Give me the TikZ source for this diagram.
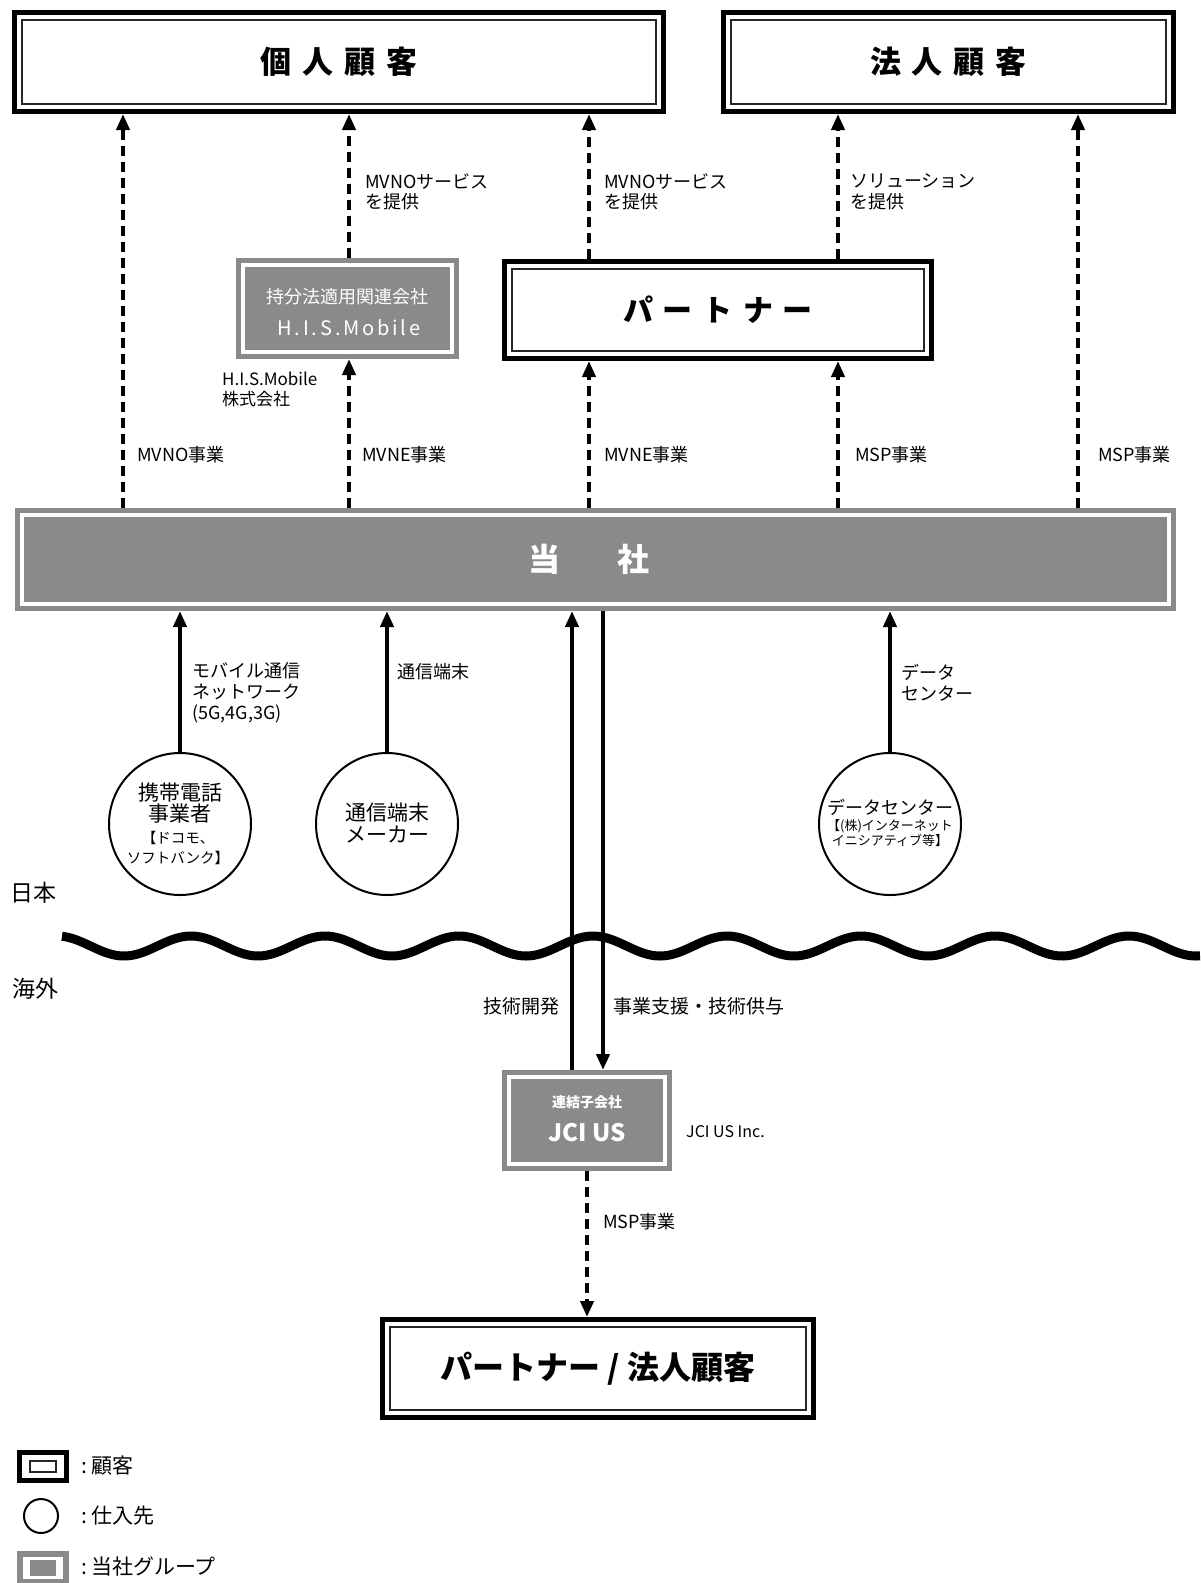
\documentclass[tikz,border=0pt]{standalone}
\usepackage{fontspec}
\setmainfont{Noto Sans CJK JP}
\usetikzlibrary{arrows.meta}
\definecolor{grp}{HTML}{8A8A8A}
\newcommand{\myfs}[2]{\fontsize{#1}{#2}\selectfont}
\tikzset{
  custbox/.style={draw=black, line width=5pt, fill=white, inner sep=0pt,
    path picture={\draw[line width=1.4pt, black!85]
      ([shift={(7.5pt,7.5pt)}]path picture bounding box.south west) rectangle
      ([shift={(-7.5pt,-7.5pt)}]path picture bounding box.north east);}},
  grpbox/.style={draw=grp, line width=5pt, fill=white, inner sep=0pt, text=white,
    path picture={\fill[grp]
      ([shift={(6.5pt,6.5pt)}]path picture bounding box.south west) rectangle
      ([shift={(-6.5pt,-6.5pt)}]path picture bounding box.north east);}},
  supplier/.style={draw=black, line width=2pt, circle, fill=white, inner sep=0pt},
  dasharrow/.style={line width=4pt, dash pattern=on 10pt off 6pt, -{Triangle[length=16pt,width=13pt]}},
  solidarrow/.style={line width=4pt, -{Triangle[length=16pt,width=13pt]}},
  lab/.style={anchor=west, align=left, inner sep=0pt, font=\myfs{18}{20.5}},
  circtext/.style={inner sep=0pt, font=\myfs{21}{21}},
  legtext/.style={anchor=west, inner sep=0pt, font=\myfs{21}{21}},
}
\begin{document}
\begin{tikzpicture}[x=1pt,y=-1pt]
\useasboundingbox (0,0) rectangle (1200,1583);
\fill[white] (0,0) rectangle (1200,1583);

% column coordinates
\coordinate (c1) at (123,0);
\coordinate (c2) at (349,0);
\coordinate (c3) at (589,0);
\coordinate (c4) at (838,0);
\coordinate (c5) at (1078,0);
\coordinate (cu) at (572,0);
\coordinate (cd) at (603,0);

% wave
\draw[line width=9pt] plot[domain=62:1200, samples=300, smooth] (\x, {946-10*cos(2.68657*(\x-593))});

% customer boxes
\node[custbox, minimum width=649pt, minimum height=99pt, font=\myfs{31}{31}\bfseries] (kojin) at (339,62)
  {個\hspace{11pt}人\hspace{11pt}顧\hspace{11pt}客};
\node[custbox, minimum width=450pt, minimum height=99pt, font=\myfs{31}{31}\bfseries] (hojin) at (948.5,62)
  {法\hspace{11pt}人\hspace{11pt}顧\hspace{11pt}客};
\node[custbox, minimum width=427pt, minimum height=97pt, font=\myfs{30}{30}\bfseries] (partner) at (718,310)
  {パ\hspace{10pt}ー\hspace{10pt}ト\hspace{10pt}ナ\hspace{10pt}ー};
\node[custbox, minimum width=431pt, minimum height=98pt, font=\myfs{32}{32}\bfseries] (bottom) at (598,1368.5)
  {パートナー / 法人顧客};

% group boxes
\node[grpbox, minimum width=218pt, minimum height=96pt] (his) at (347.5,308.5) {};
\node[text=white, inner sep=0pt, font=\myfs{18}{18}] (histxt1) at (347.5,297) {持分法適用関連会社};
\node[text=white, inner sep=0pt, font=\myfs{20}{20}\addfontfeature{LetterSpace=14}] (histxt2) at (349,328) {H.I.S.Mobile};
\node[grpbox, minimum width=1156pt, minimum height=98pt] (tosha) at (595.5,559.5) {};
\node[text=white, inner sep=0pt, font=\myfs{32}{32}\bfseries] (toshatxt) at (589,559.5) {当\hspace{57pt}社};
\node[grpbox, minimum width=165pt, minimum height=96pt] (jci) at (587,1120.5) {};
\node[text=white, inner sep=0pt, font=\myfs{14}{14}\bfseries] (jcitxt1) at (587,1102) {連結子会社};
\node[text=white, inner sep=0pt, font=\myfs{24}{24}\bfseries] (jcitxt2) at (587,1133) {JCI US};

% suppliers
\node[supplier, minimum size=142pt] (carrier) at (180,824) {};
\node[supplier, minimum size=142pt] (maker) at (387,824) {};
\node[supplier, minimum size=142pt] (dc) at (890,824) {};
\node[circtext] (t1a) at (180,793) {携帯電話};
\node[circtext] (t1b) at (180,814) {事業者};
\node[circtext, font=\myfs{14.5}{14.5}] (t1c) at (178,838) {【ドコモ、};
\node[circtext, font=\myfs{14.5}{14.5}] (t1d) at (178,858) {ソフトバンク】};
\node[circtext] (t2a) at (387,813) {通信端末};
\node[circtext] (t2b) at (387,835) {メーカー};
\node[circtext, font=\myfs{18}{18}] (t3a) at (890,807) {データセンター};
\node[circtext, font=\myfs{13}{13}] (t3b) at (890,826) {【(株)インターネット};
\node[circtext, font=\myfs{13}{13}] (t3c) at (890,840) {イニシアティブ等】};

% dashed arrows: 当社 -> customers
\draw[dasharrow] (tosha.north -| c1) -- (kojin.south -| c1);
\draw[dasharrow] (tosha.north -| c2) -- (his.south -| c2);
\draw[dasharrow] (his.north -| c2) -- (kojin.south -| c2);
\draw[dasharrow] (tosha.north -| c3) -- (partner.south -| c3);
\draw[dasharrow] (partner.north -| c3) -- (kojin.south -| c3);
\draw[dasharrow] (tosha.north -| c4) -- (partner.south -| c4);
\draw[dasharrow] (partner.north -| c4) -- (hojin.south -| c4);
\draw[dasharrow] (tosha.north -| c5) -- (hojin.south -| c5);

% supplier arrows
\draw[solidarrow] (carrier.north) -- (tosha.south -| carrier.north);
\draw[solidarrow] (maker.north) -- (tosha.south -| maker.north);
\draw[solidarrow] (dc.north) -- (tosha.south -| dc.north);

% overseas
\draw[solidarrow] (jci.north -| cu) -- (tosha.south -| cu);
\draw[solidarrow] (tosha.south -| cd) -- (jci.north -| cd);
\draw[dasharrow] (jci.south) -- (bottom.north -| jci.south);

% labels
\node[lab] (l1) at (365,192) {MVNOサービス\\を提供};
\node[lab] (l2) at (604,192) {MVNOサービス\\を提供};
\node[lab] (l3) at (850,192) {ソリューション\\を提供};
\node[lab, font=\myfs{17}{19.5}] (l4) at (222,389.5) {H.I.S.Mobile\\株式会社};
\node[lab] (l5) at (137,455) {MVNO事業};
\node[lab] (l6) at (362,455) {MVNE事業};
\node[lab] (l7) at (604,455) {MVNE事業};
\node[lab] (l8) at (855,455) {MSP事業};
\node[lab] (l9) at (1098,455) {MSP事業};
\node[lab, font=\myfs{18}{21}] (l10) at (192,693) {モバイル通信\\ネットワーク\\(5G,4G,3G)};
\node[lab] (l11) at (397,672) {通信端末};
\node[lab, font=\myfs{18}{21}] (l12) at (901,682.5) {データ\\センター};
\node[lab, font=\myfs{23}{23}] (l13) at (10,893) {日本};
\node[lab, font=\myfs{23}{23}] (l14) at (12,989) {海外};
\node[lab, anchor=east, font=\myfs{19}{19}] (l15) at (560,1006) {技術開発};
\node[lab, font=\myfs{19}{19}] (l16) at (613,1006) {事業支援・技術供与};
\node[lab, font=\myfs{16}{16}] (l17) at (686,1132) {JCI US Inc.};
\node[lab] (l18) at (603,1222) {MSP事業};

% legend
\node[draw=black, line width=5pt, fill=white, minimum width=47pt, minimum height=28pt, inner sep=0pt,
  path picture={\draw[line width=2pt, black!85]
    ([shift={(10.5pt,8.5pt)}]path picture bounding box.south west) rectangle
    ([shift={(-10.5pt,-8.5pt)}]path picture bounding box.north east);}] (leg1) at (43,1466.5) {};
\node[supplier, minimum size=34pt] (leg2) at (41,1516) {};
\node[draw=grp, line width=6pt, fill=white, minimum width=46pt, minimum height=28pt, inner sep=0pt,
  path picture={\fill[grp]
    ([shift={(10pt,6pt)}]path picture bounding box.south west) rectangle
    ([shift={(-10pt,-6pt)}]path picture bounding box.north east);}] (leg3) at (43,1568) {};
\node[legtext] (lt1) at (81,1466) {:\hspace{4pt}顧客};
\node[legtext] (lt2) at (81,1516) {:\hspace{4pt}仕入先};
\node[legtext] (lt3) at (81,1567) {:\hspace{4pt}当社グループ};
\end{tikzpicture}
\end{document}
